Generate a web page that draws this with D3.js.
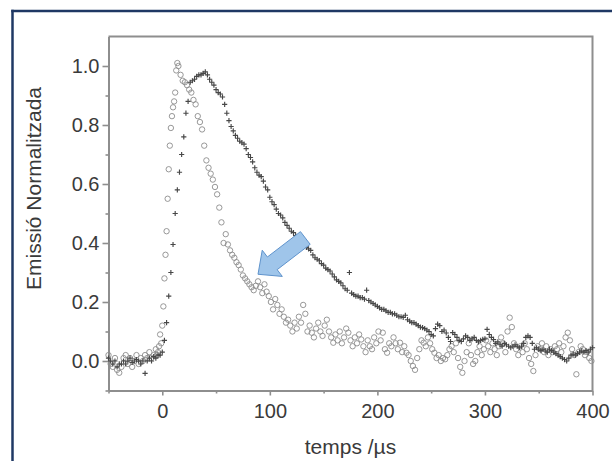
<!DOCTYPE html>
<html>
<head>
<meta charset="utf-8">
<script src="https://cdn.jsdelivr.net/npm/d3@7"></script>
<style>
  html, body { margin: 0; padding: 0; background: #fff; overflow: hidden; }
  svg { display: block; font-family: "Liberation Sans", Arial, sans-serif; }
</style>
</head>
<body>
<svg id="chart" width="613" height="461"></svg>
<script>
// ---- Data ----
const xTickValues = [0, 100, 200, 300, 400];
const xMinorTicks = [-50, 50, 150, 250, 350];
const yTickValues = [0.0, 0.2, 0.4, 0.6, 0.8, 1.0];
const yMinorTicks = [-0.1, 0.1, 0.3, 0.5, 0.7, 0.9];
const xTitle = "temps /\u00b5s";
const yTitle = "Emissió Normalitzada";

// open-circle series
const circleTimes = [
  -50,-48,-46,-44,-42,-40,-38,-36,-34,-32,
  -30,-28,-26,-24,-22,-20,-18,-16,-14,-12,
  -10,-8,-6,
  -5,-4,-3,-2,-1,0,1,2,3,4,
  5,6,7,8,9,10,11,12,13,14,15,
  17,19,21,23,25,27,29,31,33,35,
  37,39,41,43,45,47,49,51,53,55,
  57,59,61,63,65,67,69,71,73,75,
  77,79,81,83,85,87,89,91,93,95,
  97,99,101,103,105,107,109,111,113,115,
  117,119,121,123,125,127,129,131,133,135,
  137,139,141,143,145,147,149,151,153,155,
  157,159,161,163,165,167,169,171,173,175,
  177,179,181,183,185,187,189,191,193,195,
  197,199,201,203,205,207,209,211,213,215,
  217,219,221,223,225,227,229,231,233,235,
  237,239,241,243,245,247,249,251,253,255,
  257,259,261,263,265,267,269,271,273,275,
  277,279,281,283,285,287,289,291,293,295,
  297,299,301,303,305,307,309,311,313,315,
  317,319,321,323,325,327,329,331,333,335,
  337,339,341,343,345,347,349,351,353,355,
  357,359,361,363,365,367,369,371,373,375,
  377,379,381,383,385,387,389,391,393,395,
  397,399
];
const circleValues = [
  0.02,-0.01,-0.02,0.01,-0.03,-0.04,-0.02,0.01,0.02,-0.01,
  0.01,-0.02,0.00,0.02,-0.01,0.01,0.00,0.02,0.01,0.03,
  0.01,0.02,0.04,
  0.02,0.03,0.05,0.09,0.06,0.12,0.185,0.28,0.36,0.44,
  0.55,0.65,0.73,0.79,0.83,0.86,0.88,0.91,0.985,1.01,1.00,
  0.97,0.95,0.945,0.935,0.92,0.91,0.885,0.87,0.83,0.81,
  0.785,0.73,0.68,0.655,0.635,0.615,0.59,0.565,0.52,0.47,
  0.40,0.43,0.395,0.375,0.36,0.35,0.335,0.325,0.31,0.29,
  0.28,0.27,0.26,0.25,0.24,0.255,0.27,0.25,0.23,0.26,
  0.235,0.22,0.20,0.175,0.21,0.19,0.16,0.175,0.15,0.13,
  0.14,0.12,0.10,0.13,0.11,0.15,0.13,0.19,0.16,0.10,
  0.12,0.096,0.08,0.11,0.13,0.10,0.085,0.12,0.14,0.10,
  0.08,0.062,0.09,0.07,0.10,0.06,0.08,0.11,0.096,0.07,
  0.05,0.08,0.06,0.09,0.073,0.05,0.03,0.07,0.05,0.04,
  0.08,0.06,0.10,0.07,0.096,0.04,0.028,0.06,0.05,0.08,
  0.06,0.04,0.062,0.03,0.05,0.028,0.02,0.0,-0.017,-0.03,
  0.01,0.04,0.07,0.062,0.05,0.08,0.06,0.04,0.028,0.01,
  0.02,0.0,0.01,0.006,0.02,0.04,0.05,0.03,0.06,0.01,
  -0.02,-0.04,0.0,0.03,0.06,0.02,-0.01,0.0,0.03,0.05,
  0.02,0.04,0.07,0.05,0.03,0.06,0.04,0.02,0.05,0.08,
  0.06,0.03,0.10,0.147,0.115,0.06,0.04,0.02,0.05,0.03,
  0.06,0.04,0.01,-0.01,-0.034,0.02,0.05,0.04,0.06,0.03,
  0.05,0.02,0.04,0.03,0.05,0.04,0.06,0.03,0.05,0.08,
  0.096,0.07,0.04,0.02,-0.045,0.03,0.05,0.04,0.02,0.03,
  0.01,0.0
];

// cross series
const crossTimes = [
  -50,-48,-46,-44,-42,-40,-38,-36,-34,-32,
  -30,-28,-26,-24,-22,-20,-18,-16,-14,-12,
  -10,-8,-6,-4,-2,0,2,4,6,8,
  10,12,14,16,18,20,22,24,26,28,
  30,32,34,36,38,40,42,44,46,48,
  50,52,54,56,58,60,62,64,66,68,
  70,72,74,76,78,80,82,84,86,88,
  90,92,94,96,98,100,102,104,106,108,
  110,112,114,116,118,120,122,124,126,128,
  130,132,134,136,138,140,142,144,146,148,
  150,152,154,156,158,160,162,164,166,168,
  170,172,174,176,178,180,182,184,186,188,
  190,192,194,196,198,200,202,204,206,208,
  210,212,214,216,218,220,222,224,226,228,
  230,232,234,236,238,240,242,244,246,248,
  250,252,254,256,258,260,262,264,266,268,
  270,272,274,276,278,280,282,284,286,288,
  290,292,294,296,298,300,302,304,306,308,
  310,312,314,316,318,320,322,324,326,328,
  330,332,334,336,338,340,342,344,346,348,
  350,352,354,356,358,360,362,364,366,368,
  370,372,374,376,378,380,382,384,386,388,
  390,392,394,396,398,400
];
const crossValues = [
  0.01,0.0,-0.01,0.0,-0.02,-0.01,-0.01,0.0,-0.01,0.0,
  0.01,-0.005,0.0,0.005,0.0,-0.01,0.0,-0.042,0.0,0.01,
  0.0,0.015,0.01,0.02,0.02,0.03,0.07,0.13,0.22,0.30,
  0.395,0.50,0.58,0.64,0.70,0.76,0.84,0.88,0.945,0.95,
  0.955,0.965,0.97,0.97,0.975,0.98,0.97,0.955,0.945,0.935,
  0.92,0.91,0.905,0.895,0.87,0.84,0.815,0.795,0.78,0.765,
  0.755,0.745,0.74,0.735,0.72,0.70,0.69,0.675,0.655,0.64,
  0.63,0.625,0.61,0.59,0.58,0.555,0.54,0.53,0.515,0.50,
  0.495,0.485,0.47,0.46,0.45,0.44,0.435,0.425,0.415,0.405,
  0.40,0.39,0.385,0.38,0.375,0.36,0.35,0.345,0.34,0.33,
  0.325,0.315,0.31,0.305,0.295,0.285,0.275,0.27,0.265,0.255,
  0.245,0.24,0.30,0.23,0.225,0.22,0.22,0.215,0.215,0.21,
  0.24,0.205,0.20,0.195,0.19,0.185,0.18,0.175,0.175,0.17,
  0.165,0.165,0.16,0.16,0.155,0.15,0.15,0.148,0.155,0.14,
  0.135,0.13,0.13,0.125,0.12,0.115,0.113,0.11,0.105,0.10,
  0.09,0.085,0.11,0.125,0.12,0.10,0.105,0.095,0.08,0.066,
  0.096,0.09,0.08,0.07,0.066,0.075,0.085,0.08,0.07,0.075,
  0.08,0.07,0.065,0.07,0.073,0.075,0.107,0.09,0.08,0.073,
  0.06,0.065,0.055,0.05,0.06,0.055,0.05,0.045,0.05,0.055,
  0.05,0.045,0.05,0.06,0.08,0.085,0.08,0.06,0.04,0.045,
  0.04,0.035,0.04,0.034,0.03,0.04,0.035,0.03,0.025,0.02,
  0.015,0.01,0.005,0.0,0.01,0.02,0.023,0.02,0.025,0.03,
  0.034,0.03,0.035,0.03,0.04,0.045
];

// annotation arrow (data coordinates: from tail to tip)
const arrowFrom = [133, 0.417];
const arrowTo = [89, 0.294];

// ---- Drawing ----
const svg = d3.select("#chart");
const W = 613, H = 461;
const plot = { left: 108.5, right: 592.5, top: 36.5, bottom: 390.5 };
const axisColor = "#8e8e8e";
const textColor = "#3a3a3a";

// outer navy frame: only its left and top edges fall inside the picture
svg.append("line").attr("x1", 12.5).attr("y1", 9.75).attr("x2", 12.5).attr("y2", H)
  .attr("stroke", "#1f3864").attr("stroke-width", 2.5);
svg.append("line").attr("x1", 11.25).attr("y1", 11).attr("x2", W - 1).attr("y2", 11)
  .attr("stroke", "#1f3864").attr("stroke-width", 2.5);

const x = d3.scaleLinear().domain([-50, 400]).range([plot.left, plot.right]);
const y = d3.scaleLinear().domain([-0.1, 1.1]).range([plot.bottom, plot.top]);

// minor ticks
const gxMinor = svg.append("g").attr("transform", `translate(0,${plot.bottom})`)
  .call(d3.axisBottom(x).tickValues(xMinorTicks).tickSize(3).tickSizeOuter(0).tickFormat(""));
const gyMinor = svg.append("g").attr("transform", `translate(${plot.left},0)`)
  .call(d3.axisLeft(y).tickValues(yMinorTicks).tickSize(3).tickSizeOuter(0).tickFormat(""));

// major axes
const gx = svg.append("g").attr("transform", `translate(0,${plot.bottom})`)
  .call(d3.axisBottom(x).tickValues(xTickValues).tickSize(5).tickSizeOuter(0).tickPadding(8)
    .tickFormat(d3.format("d")));
const gy = svg.append("g").attr("transform", `translate(${plot.left},0)`)
  .call(d3.axisLeft(y).tickValues(yTickValues).tickSize(6).tickSizeOuter(0).tickPadding(3)
    .tickFormat(d3.format(".1f")));

[gxMinor, gyMinor, gx, gy].forEach(g => {
  g.select(".domain").attr("stroke", axisColor).attr("stroke-width", 2);
  g.selectAll(".tick line").attr("stroke", axisColor).attr("stroke-width", 1.6);
  g.selectAll(".tick text").attr("fill", textColor).style("font-size", "20px")
    .style("font-family", '"Liberation Sans", Arial, sans-serif');
});

// top and right frame lines
svg.append("path")
  .attr("d", `M${plot.left},${plot.top}H${plot.right}V${plot.bottom}`)
  .attr("fill", "none").attr("stroke", axisColor).attr("stroke-width", 2);

// circle series
const circleData = circleTimes.map((t, i) => ({ t, v: circleValues[i] }));
svg.append("g").selectAll("circle").data(circleData).join("circle")
  .attr("cx", d => x(d.t)).attr("cy", d => y(d.v)).attr("r", 2.7)
  .attr("fill", "none").attr("stroke", "#8c8c8c").attr("stroke-width", 0.9);

// cross series
const crossData = crossTimes.map((t, i) => ({ t, v: crossValues[i] }));
const cs = 2.6;
svg.append("g").selectAll("path").data(crossData).join("path")
  .attr("d", d => `M${x(d.t) - cs},${y(d.v)}H${x(d.t) + cs}M${x(d.t)},${y(d.v) - cs}V${y(d.v) + cs}`)
  .attr("stroke", "#474747").attr("stroke-width", 1.15).attr("fill", "none");

// annotation arrow
(function () {
  const tx = x(arrowFrom[0]), ty = y(arrowFrom[1]);
  const hx = x(arrowTo[0]), hy = y(arrowTo[1]);
  const L = Math.hypot(hx - tx, hy - ty);
  const ux = (hx - tx) / L, uy = (hy - ty) / L;
  const nx = -uy, ny = ux;
  const sw = 16, hw = 33, hl = 18;
  const bx = hx - ux * hl, by = hy - uy * hl;
  const pts = [
    [tx + nx * sw / 2, ty + ny * sw / 2],
    [bx + nx * sw / 2, by + ny * sw / 2],
    [bx + nx * hw / 2, by + ny * hw / 2],
    [hx, hy],
    [bx - nx * hw / 2, by - ny * hw / 2],
    [bx - nx * sw / 2, by - ny * sw / 2],
    [tx - nx * sw / 2, ty - ny * sw / 2]
  ];
  svg.append("polygon").attr("points", pts.map(p => p.join(",")).join(" "))
    .attr("fill", "#9fc5ea").attr("stroke", "#5f93cc").attr("stroke-width", 1);
})();

// axis titles
svg.append("text").attr("x", (plot.left + plot.right) / 2).attr("y", 454)
  .attr("text-anchor", "middle").attr("fill", textColor)
  .style("font-size", "21px").text(xTitle);
svg.append("text").attr("transform", `translate(41,${188.5}) rotate(-90)`)
  .attr("text-anchor", "middle").attr("fill", textColor)
  .style("font-size", "21px").text(yTitle);
</script>
</body>
</html>
